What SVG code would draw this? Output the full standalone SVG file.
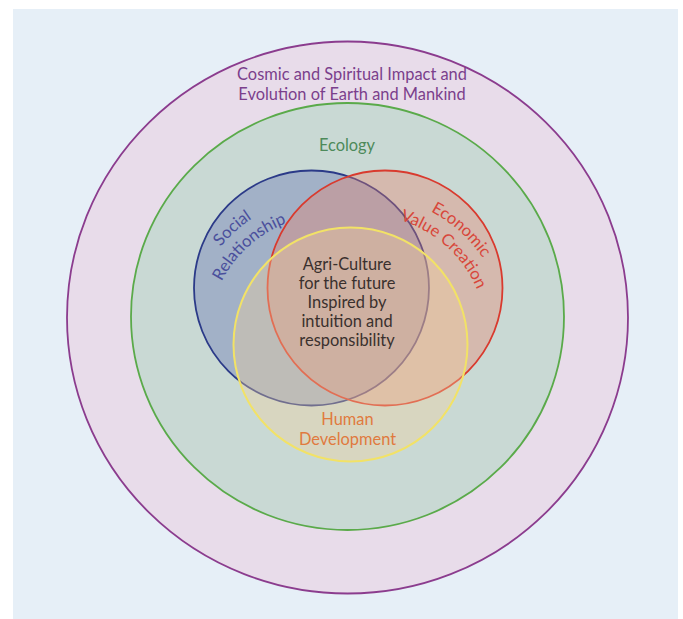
<svg xmlns="http://www.w3.org/2000/svg" width="683" height="619" viewBox="0 0 683 619">
<style>
text{font-family:Lato,"Open Sans","Noto Sans",sans-serif;font-size:16.4px;text-anchor:middle}
.arc{font-size:16.6px}
.purple{fill:#7b3f8c}
.green{fill:#4d8a5a}
.blue{fill:#4a4f9c}
.red{fill:#d8473a}
.orange{fill:#e07a3e}
.dark{fill:#3a302e}
</style>
<defs>
<path id="arcSocial" d="M188.1,342.7 A143,143 0 0 1 350.9,196.1"/>
<path id="arcRel" d="M208.1,342 A123,123 0 0 1 348.1,215.9"/>
<path id="arcEco" d="M344.1,196.1 A143,143 0 0 1 506.9,342.7"/>
<path id="arcVal" d="M346.9,215.9 A123,123 0 0 1 486.9,342"/>
</defs>
<rect x="0" y="0" width="683" height="619" fill="#ffffff"/>
<rect x="13" y="9" width="665" height="610" fill="#e6eff7"/>
<g id="cosmic">
<ellipse cx="347.5" cy="317.5" rx="280.5" ry="276" fill="#e8dcea" stroke="#8b3c8e" stroke-width="1.8"/>
<text class="purple" x="352" y="80">Cosmic and Spiritual Impact and</text>
<text class="purple" x="352" y="100">Evolution of Earth and Mankind</text>
</g>
<g id="ecology">
<ellipse cx="347.5" cy="316.5" rx="216.5" ry="213.5" fill="#c9d9d4" stroke="#5aaa4a" stroke-width="1.8"/>
<text class="green" x="347" y="151">Ecology</text>
</g>
<g id="social">
<circle cx="311.5" cy="288" r="117.5" fill="#5f6cb0" fill-opacity="0.37" stroke="#2b3a88" stroke-width="1.8"/>
<text class="blue arc"><textPath href="#arcSocial" startOffset="50%">Social</textPath></text>
<text class="blue arc"><textPath href="#arcRel" startOffset="50%">Relationship</textPath></text>
</g>
<g id="economic">
<circle cx="385" cy="288" r="117.5" fill="#eb7e67" fill-opacity="0.35" stroke="#d93a2e" stroke-width="1.8"/>
<text class="red arc"><textPath href="#arcEco" startOffset="50%">Economic</textPath></text>
<text class="red arc"><textPath href="#arcVal" startOffset="50%">Value Creation</textPath></text>
</g>
<g id="human">
<circle cx="350.5" cy="344.5" r="117" fill="#f4d09b" fill-opacity="0.35" stroke="#f2e266" stroke-width="2"/>
<text class="orange" x="347.5" y="425">Human</text>
<text class="orange" x="347.5" y="445">Development</text>
</g>
<g id="center">
<text class="dark" x="347" y="270">Agri-Culture</text>
<text class="dark" x="347" y="289">for the future</text>
<text class="dark" x="347" y="308">Inspired by</text>
<text class="dark" x="347" y="327">intuition and</text>
<text class="dark" x="347" y="346">responsibility</text>
</g>
</svg>
